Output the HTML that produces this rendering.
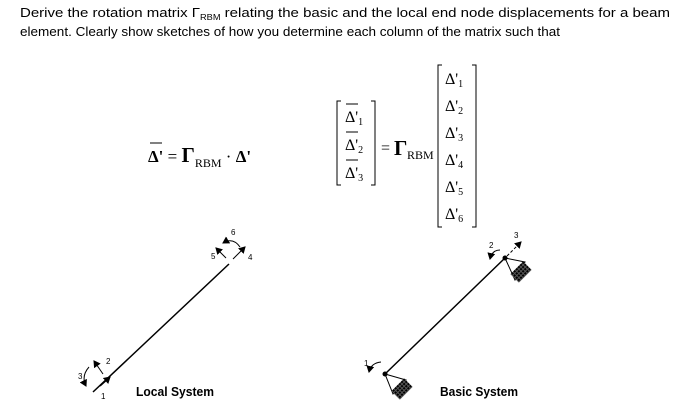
<!DOCTYPE html>
<html><head><meta charset="utf-8"><style>
html,body{margin:0;padding:0;background:#fff;}
svg{display:block;}
</style></head><body>
<svg width="683" height="415" viewBox="0 0 683 415" xmlns="http://www.w3.org/2000/svg">
<defs>
<marker id="ah" markerWidth="8" markerHeight="8" refX="6" refY="4" orient="auto" markerUnits="userSpaceOnUse"><path d="M0,0 L7,4 L0,8 Z" fill="#000"/></marker>
<pattern id="hat" width="3" height="3" patternUnits="userSpaceOnUse"><rect width="3" height="3" fill="#555"/><rect width="2" height="2" fill="#000"/></pattern>
</defs>
<g font-family="Liberation Sans, sans-serif" font-size="13" fill="#000">
<text x="20" y="17" textLength="650" lengthAdjust="spacingAndGlyphs">Derive the rotation matrix Γ<tspan font-size="8" dy="3">RBM</tspan><tspan dy="-3"> relating the basic and the local end node displacements for a beam</tspan></text>
<text x="20" y="36" textLength="540" lengthAdjust="spacingAndGlyphs">element. Clearly show sketches of how you determine each column of the matrix such that</text>
</g>
<g font-family="Liberation Serif, serif" fill="#000">
<!-- left equation -->
<line x1="150" y1="143" x2="162" y2="143" stroke="#000" stroke-width="1"/>
<text x="148" y="162" font-size="17" font-weight="bold">Δ'<tspan font-weight="normal"> = </tspan><tspan font-size="21">Γ</tspan><tspan font-size="12" font-weight="normal" dy="5">RBM</tspan><tspan dy="-5" font-weight="normal"> · </tspan>Δ'</text>
<!-- left matrix -->
<path d="M341,101 h-4 v84 h4 M371,101 h4 v84 h-4" fill="none" stroke="#000" stroke-width="1"/>
<g font-size="16">
<line x1="346" y1="104" x2="358" y2="104" stroke="#000"/>
<text x="345" y="122">Δ'<tspan font-size="10" dy="3">1</tspan></text>
<line x1="346" y1="132" x2="358" y2="132" stroke="#000"/>
<text x="345" y="150">Δ'<tspan font-size="10" dy="3">2</tspan></text>
<line x1="346" y1="160" x2="358" y2="160" stroke="#000"/>
<text x="345" y="178">Δ'<tspan font-size="10" dy="3">3</tspan></text>
</g>
<text x="381" y="153" font-size="16">=</text>
<text x="394" y="155" font-size="21" font-weight="bold">Γ</text>
<text x="407" y="159" font-size="12">RBM</text>
<!-- right matrix -->
<path d="M442,65 h-4 v162 h4 M472,65 h4 v162 h-4" fill="none" stroke="#000" stroke-width="1"/>
<g font-size="16">
<text x="445" y="84">Δ'<tspan font-size="10" dy="3">1</tspan></text>
<text x="445" y="111">Δ'<tspan font-size="10" dy="3">2</tspan></text>
<text x="445" y="138">Δ'<tspan font-size="10" dy="3">3</tspan></text>
<text x="445" y="165">Δ'<tspan font-size="10" dy="3">4</tspan></text>
<text x="445" y="192">Δ'<tspan font-size="10" dy="3">5</tspan></text>
<text x="445" y="219">Δ'<tspan font-size="10" dy="3">6</tspan></text>
</g>
</g>
<!-- local system -->
<g stroke="#000" fill="none" stroke-width="1.5">
<line x1="93" y1="392" x2="229" y2="264"/>
<line x1="100" y1="386" x2="110" y2="377" marker-end="url(#ah)"/>
<line x1="103" y1="374" x2="94" y2="361" marker-end="url(#ah)" stroke-width="1"/>
<path d="M89,367 Q81,376 86,386" marker-end="url(#ah)" stroke-width="1"/>
<line x1="233" y1="259" x2="245" y2="247" marker-end="url(#ah)" stroke-width="1"/>
<line x1="226" y1="258" x2="216" y2="248" marker-end="url(#ah)" stroke-width="1"/>
<path d="M240,247 Q233,237 223,243" marker-end="url(#ah)" stroke-width="1"/>
</g>
<g font-family="Liberation Sans, sans-serif" font-size="8" fill="#000">
<text x="106" y="364">2</text><text x="78" y="379">3</text><text x="101" y="399">1</text>
<text x="231" y="235">6</text><text x="211" y="259">5</text><text x="248" y="260">4</text>
</g>
<!-- basic system -->
<g stroke="#000" fill="none" stroke-width="1.5">
<line x1="385" y1="374" x2="505" y2="258"/>
<path d="M385,374 L406,380 L393,394 Z" stroke-width="1"/>
<path d="M505,258 L525,262 L515,280 Z" stroke-width="1"/>
<line x1="507" y1="256" x2="521" y2="242" marker-end="url(#ah)" stroke-width="1" stroke-dasharray="3,2"/>
<path d="M500,250 Q492,250 490,259" marker-end="url(#ah)" stroke-width="1"/>
<path d="M381,362 Q371,363 369,372" marker-end="url(#ah)" stroke-width="1"/>
</g>
<rect x="-6" y="-9" width="12" height="18" fill="url(#hat)" transform="translate(402,389) rotate(45)"/>
<rect x="-6" y="-9" width="12" height="18" fill="url(#hat)" transform="translate(521,272) rotate(45)"/>
<circle cx="385" cy="374" r="2.5" fill="#000"/>
<circle cx="505" cy="258" r="2.5" fill="#000"/>
<g font-family="Liberation Sans, sans-serif" font-size="8" fill="#000">
<text x="364" y="366">1</text><text x="489" y="248">2</text><text x="514" y="238">3</text>
</g>
<g font-family="Liberation Sans, sans-serif" font-size="13" font-weight="bold" fill="#000">
<text x="136" y="396" textLength="78" lengthAdjust="spacingAndGlyphs">Local System</text>
<text x="440" y="396" textLength="78" lengthAdjust="spacingAndGlyphs">Basic System</text>
</g>
</svg>
</body></html>
